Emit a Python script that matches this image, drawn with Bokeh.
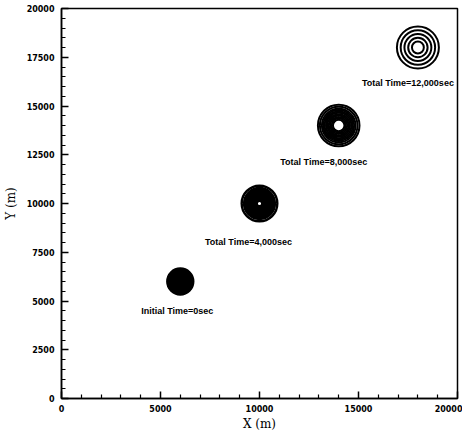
from bokeh.plotting import figure
from bokeh.models import FixedTicker, ColumnDataSource
from bokeh.core.properties import value
from bokeh.embed import file_html
from bokeh.resources import INLINE

# Plume centres (m) and snapshot labels
centre_x = [6000, 10000, 14000, 18000]
centre_y = [6000, 10000, 14000, 18000]
labels = ["Initial Time=0sec", "Total Time=4,000sec", "Total Time=8,000sec", "Total Time=12,000sec"]

# Contour ring radii (m)
rings_0 = [70, 120, 170, 220, 270, 320, 370, 420, 470, 520, 570, 620, 650]
rings_4000 = [140, 190, 240, 290, 340, 390, 440, 490, 540, 590, 640, 690, 740, 780, 900]
rings_8000 = [290, 360, 430, 500, 570, 640, 710, 780, 850, 950, 1050]
rings_12000 = [300, 490, 680, 870, 1060]

x_major = [0, 5000, 10000, 15000, 20000]
x_minor = [1000, 2000, 3000, 4000, 6000, 7000, 8000, 9000, 11000, 12000, 13000, 14000,
           16000, 17000, 18000, 19000]
y_major = [0, 2500, 5000, 7500, 10000, 12500, 15000, 17500, 20000]
y_minor = [500, 1000, 1500, 2000, 3000, 3500, 4000, 4500, 5500, 6000, 6500, 7000,
           8000, 8500, 9000, 9500, 10500, 11000, 11500, 12000, 13000, 13500, 14000, 14500,
           15500, 16000, 16500, 17000, 18000, 18500, 19000, 19500]

p = figure(frame_width=396, frame_height=390, x_range=(0, 20000), y_range=(0, 20000),
           output_backend="svg", toolbar_location=None,
           min_border_left=58, min_border_right=5, min_border_top=8, min_border_bottom=28)
p.grid.visible = False
p.outline_line_color = "black"
p.outline_line_width = 1.5
p.background_fill_color = "white"
p.border_fill_color = "white"

# rings
all_rings = [rings_0, rings_4000, rings_8000, rings_12000]
widths = [2.6, 2.4, 2.0, 2.0]
for cx, cy, rr, lw in zip(centre_x, centre_y, all_rings, widths):
    src = ColumnDataSource(dict(x=[cx] * len(rr), y=[cy] * len(rr), r=rr))
    p.circle(x="x", y="y", radius="r", source=src, fill_color=None,
             line_color="black", line_width=lw)

# labels
x_off = [-3, -11, -15, -10]
y_off = [29, 38, 36, 35]
for cx, cy, lab, xo, yo in zip(centre_x, centre_y, labels, x_off, y_off):
    p.text(x=[cx], y=[cy], text=[lab], x_offset=xo, y_offset=yo,
           text_align="center", text_baseline="middle",
           text_font=value("Liberation Sans"), text_font_size="9px",
           text_font_style="bold", text_color="black")

p.xaxis.axis_label = "X (m)"
p.yaxis.axis_label = "Y (m)"

for ax, maj, mino in ((p.xaxis[0], x_major, x_minor), (p.yaxis[0], y_major, y_minor)):
    ax.ticker = FixedTicker(ticks=maj, minor_ticks=mino)
    ax.major_tick_in = 7
    ax.major_tick_out = 0
    ax.minor_tick_in = 4
    ax.minor_tick_out = 0
    ax.major_tick_line_width = 1.5
    ax.minor_tick_line_width = 1.2
    ax.major_tick_line_color = "black"
    ax.minor_tick_line_color = "black"
    ax.axis_line_color = "black"
    ax.axis_line_width = 1.5
    ax.major_label_text_font = "DejaVu Sans"
    ax.major_label_text_font_style = "bold"
    ax.major_label_text_font_size = "8px"
    ax.major_label_text_color = "black"
    ax.axis_label_text_font = "DejaVu Serif"
    ax.axis_label_text_font_style = "normal"
    ax.axis_label_text_font_size = "12px"
    ax.axis_label_text_color = "black"

p.xaxis.major_label_standoff = 6
p.yaxis.major_label_standoff = 7
p.xaxis.axis_label_standoff = 2
p.yaxis.axis_label_standoff = 6

open("out.html", "w").write(file_html(p, INLINE))
